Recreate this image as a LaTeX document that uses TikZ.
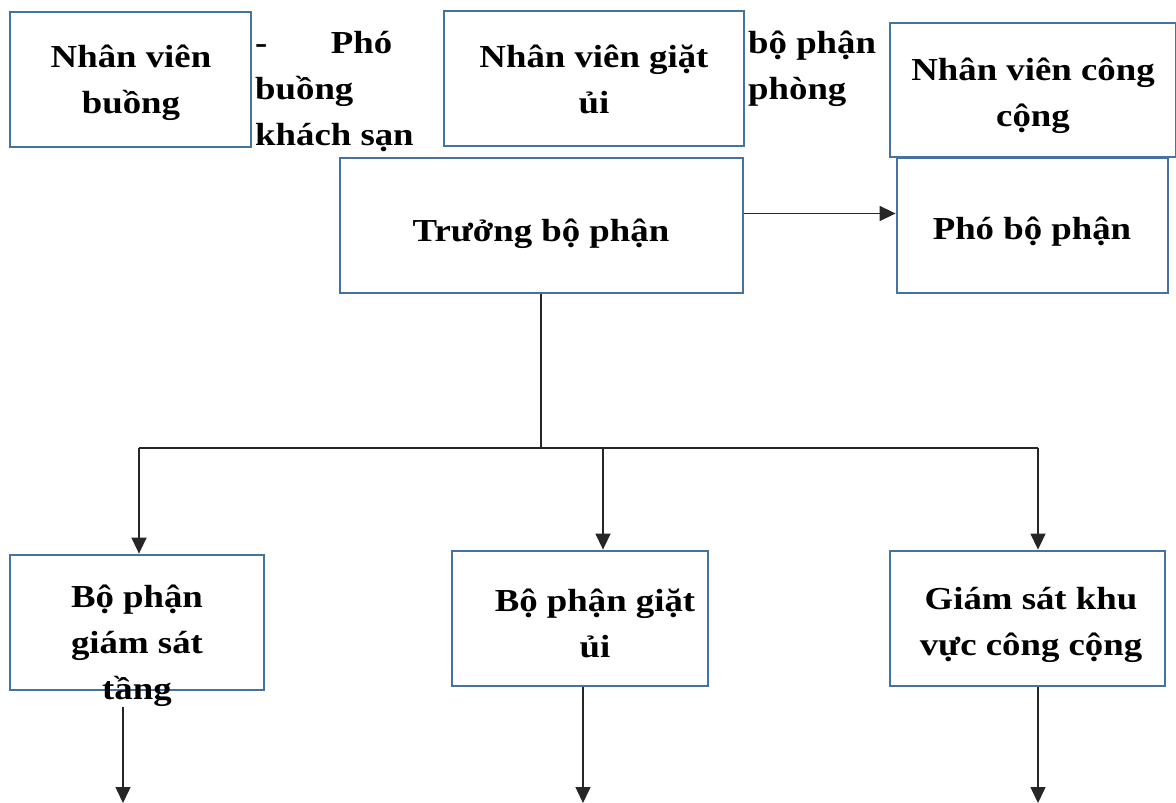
\documentclass[tikz,border=0pt]{standalone}
\usepackage{fontspec}
\setmainfont{Liberation Serif}[FakeStretch=1.15]
\usetikzlibrary{arrows.meta}
\definecolor{boxblue}{RGB}{70,114,160}
\tikzset{
  box/.style={draw=boxblue, line width=2.8pt, rectangle, inner sep=0pt},
  txt/.style={inner sep=0pt, align=center, font=\fontsize{32}{46}\selectfont\bfseries},
  ltxt/.style={inner sep=0pt, align=left, font=\fontsize{32}{46}\selectfont\bfseries},
  conn/.style={line width=1.5pt, draw=black!85},
  arr/.style={conn, -{Triangle[length=16pt,width=15pt]}}
}
\begin{document}
\begin{tikzpicture}[x=1pt,y=1pt]
\useasboundingbox (0,0) rectangle (1176,-803);
% top row boxes
\node[box, minimum width=241, minimum height=135] (nvb) at (130.5,-79.5) {};
\node[txt] (nvbt) at (131,-83) {Nhân viên\\buồng};
\node[ltxt, anchor=west] (pbk) at (255,-92) {\makebox[137pt][l]{-\hfill Phó}\\buồng\\khách sạn};
\node[box, minimum width=300, minimum height=135] (nvg) at (594,-78.5) {};
\node[txt] (nvgt) at (594,-79) {Nhân viên giặt\\ủi};
\node[ltxt, anchor=west] (bpp) at (748,-69) {bộ phận\\phòng};
\node[box, minimum width=286, minimum height=134] (nvc) at (1033,-90) {};
\node[txt] (nvct) at (1033,-95.5) {Nhân viên công\\cộng};
% middle row
\node[box, minimum width=403, minimum height=135] (tr) at (541.5,-225.5) {};
\node[txt] (trt) at (541,-234) {Trưởng bộ phận};
\node[box, minimum width=271, minimum height=135] (pho) at (1032.5,-225.5) {};
\node[txt] (phot) at (1032,-232) {Phó bộ phận};
% bottom row
\node[box, minimum width=254, minimum height=135] (b1) at (137,-622.5) {};
\node[txt] (b1t) at (137,-646) {Bộ phận\\giám sát\\tầng};
\node[box, minimum width=256, minimum height=135] (b2) at (580,-618.5) {};
\node[txt] (b2t) at (595,-623) {Bộ phận giặt\\ủi};
\node[box, minimum width=275, minimum height=135] (b3) at (1027.5,-618.5) {};
\node[txt] (b3t) at (1031,-625) {Giám sát khu\\vực công cộng};
% connectors
\coordinate (hy) at (541,-448);
\coordinate (d1) at (139,-448);
\coordinate (d2) at (603,-448);
\coordinate (d3) at (1038,-448);
\coordinate (e1) at (123,-803);
\coordinate (e2) at (583,-803);
\coordinate (e3) at (1038,-803);
\draw[arr] ([yshift=12pt]tr.east) -- ([yshift=12pt]tr.east -| pho.west);
\draw[conn] (tr.south -| hy) -- (hy);
\draw[conn] (d1) -- (d3);
\draw[arr] (d1) -- (d1 |- b1.north);
\draw[arr] (d2) -- (d2 |- b2.north);
\draw[arr] (d3) -- (d3 |- b3.north);
\draw[arr] (e1 |- b1t.south) -- (e1);
\draw[arr] (e2 |- b2.south) -- (e2);
\draw[arr] (e3 |- b3.south) -- (e3);
\end{tikzpicture}
\end{document}
